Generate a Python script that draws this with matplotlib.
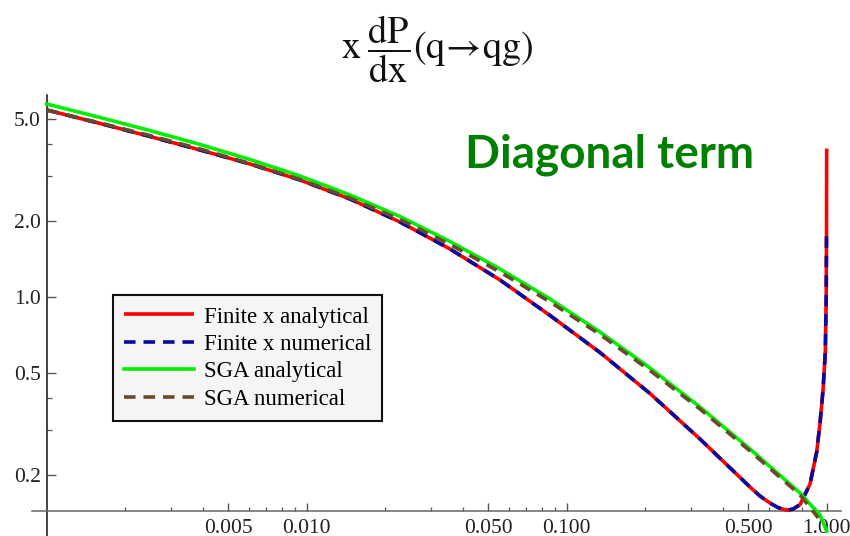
import matplotlib
matplotlib.use('Agg')
import matplotlib.pyplot as plt
from matplotlib.ticker import FixedLocator, FixedFormatter, NullFormatter

# ---------------- data ----------------
x_red = [0.001, 0.001603, 0.002496, 0.003887, 0.006051, 0.009424, 0.01467, 0.02284,
         0.03557, 0.05538, 0.08627, 0.1343, 0.2091, 0.3256, 0.5070, 0.5539, 0.605,
         0.6497, 0.7018, 0.7420, 0.7898, 0.8627, 0.9152, 0.9424, 0.9679, 0.9877,
         0.9956, 0.9984, 0.99944]
y_red = [5.447, 4.822, 4.284, 3.791, 3.339, 2.888, 2.431, 1.974,
         1.545, 1.167, 0.8456, 0.6046, 0.4169, 0.2760, 0.1786, 0.1646, 0.1545,
         0.1483, 0.1446, 0.1463, 0.1524, 0.1836, 0.2454, 0.3190, 0.4303, 0.6073,
         1.0, 1.86, 3.84]

x_blue = [0.001, 0.001603, 0.002496, 0.003887, 0.006051, 0.009424, 0.01467, 0.02284,
          0.03557, 0.05538, 0.08627, 0.1343, 0.2091, 0.3256, 0.5070, 0.5539, 0.605,
          0.6497, 0.7018, 0.7420, 0.7898, 0.8627, 0.9152, 0.9424, 0.9679, 0.9877,
          0.9956, 0.9984]
y_blue = [5.447, 4.822, 4.284, 3.791, 3.339, 2.888, 2.431, 1.974,
          1.545, 1.167, 0.8456, 0.6046, 0.4169, 0.2760, 0.1786, 0.1646, 0.1545,
          0.1483, 0.1446, 0.1463, 0.1524, 0.1836, 0.2454, 0.3190, 0.4303, 0.6073,
          1.0, 1.86]

x_green = [0.001, 0.001603, 0.002496, 0.003887, 0.006051, 0.009424, 0.01467, 0.02284,
           0.03557, 0.05538, 0.08627, 0.1343, 0.2091, 0.3256, 0.5070, 0.7898,
           0.9424, 1.0]
y_green = [5.75, 5.09, 4.52, 3.985, 3.478, 2.995, 2.521, 2.075,
           1.654, 1.289, 0.982, 0.728, 0.5254, 0.3688, 0.2521, 0.1692,
           0.1385, 0.1199]

x_brown = [0.001, 0.001603, 0.002496, 0.003887, 0.006051, 0.009424, 0.01467, 0.02284,
           0.03557, 0.05538, 0.08627, 0.1343, 0.2091, 0.3256, 0.5070, 0.7898, 0.928]
y_brown = [5.445, 4.843, 4.320, 3.826, 3.354, 2.902, 2.453, 2.019,
           1.610, 1.254, 0.956, 0.712, 0.5136, 0.3622, 0.2476, 0.1662, 0.135]

labels = ["Finite x analytical", "Finite x numerical", "SGA analytical", "SGA numerical"]

x_major = [0.005, 0.01, 0.05, 0.1, 0.5, 1.0]
x_major_labels = ["0.005", "0.010", "0.050", "0.100", "0.500", "1.000"]
x_minor = [0.002, 0.003, 0.004, 0.006, 0.007, 0.008, 0.009, 0.02, 0.03, 0.04,
           0.06, 0.07, 0.08, 0.09, 0.2, 0.3, 0.4, 0.6, 0.7, 0.8, 0.9]
y_major = [0.2, 0.5, 1.0, 2.0, 5.0]
y_major_labels = ["0.2", "0.5", "1.0", "2.0", "5.0"]
y_minor = [0.3, 0.4, 3.0, 4.0]

# ---------------- figure ----------------
plt.rcParams['mathtext.fontset'] = 'stix'
plt.rcParams['font.family'] = ['Liberation Serif', 'DejaVu Serif']
W, H = 850, 536
fig = plt.figure(figsize=(W / 100, H / 100), dpi=100)
ax = fig.add_axes([31.7 / W, 0.0, (841.5 - 31.7) / W, 1 - 95 / H])
ax.set_xscale('log')
ax.set_yscale('log')

lw = 2.6
ax.plot(x_red, y_red, color='#ff0000', lw=lw, label=labels[0], solid_capstyle='butt', zorder=3)
ax.plot(x_blue, y_blue, color='#0a0a9c', lw=lw, dashes=(3.2, 2.2), label=labels[1], zorder=4)
ax.plot(x_green, y_green, color='#00ee00', lw=lw, label=labels[2], zorder=5)
ax.plot(x_brown, y_brown, color='#6b4a2a', lw=lw, dashes=(3.2, 2.2), label=labels[3], zorder=6)

ax.set_xlim(0.000875, 1.14)
ax.set_ylim(0.1146, 6.24)

for s in ['top', 'right']:
    ax.spines[s].set_visible(False)
ax.spines['left'].set_position(('data', 0.001))
ax.spines['bottom'].set_position(('data', 0.1437))
ax.spines['left'].set_color('#111111')
ax.spines['bottom'].set_color('#666666')
ax.spines['left'].set_linewidth(1.1)
ax.spines['bottom'].set_linewidth(1.1)

ax.xaxis.set_major_locator(FixedLocator(x_major))
ax.xaxis.set_major_formatter(FixedFormatter(x_major_labels))
ax.xaxis.set_minor_locator(FixedLocator(x_minor))
ax.xaxis.set_minor_formatter(NullFormatter())
ax.yaxis.set_major_locator(FixedLocator(y_major))
ax.yaxis.set_major_formatter(FixedFormatter(y_major_labels))
ax.yaxis.set_minor_locator(FixedLocator(y_minor))
ax.yaxis.set_minor_formatter(NullFormatter())

ax.tick_params(axis='x', which='major', direction='in', length=6, width=1, color='#555555',
               pad=5.5, labelsize=15.5, labelcolor='#222222')
ax.tick_params(axis='x', which='minor', direction='in', length=3, width=0.9, color='#555555')
ax.tick_params(axis='y', which='major', direction='in', length=6.5, width=1, color='#555555',
               pad=4.3, labelsize=15.5, labelcolor='#222222')
ax.tick_params(axis='y', which='minor', direction='in', length=3.5, width=0.9, color='#555555')

leg = ax.legend(loc='upper left', bbox_to_anchor=(113 / W, 1 - 295 / H),
                bbox_transform=fig.transFigure, frameon=True, fancybox=False,
                prop={'family': 'Liberation Serif', 'size': 16.5},
                handlelength=3.05, handletextpad=0.4, labelspacing=0.28,
                borderpad=0.5, borderaxespad=0.0)
leg.get_frame().set_facecolor('#f5f5f5')
leg.get_frame().set_edgecolor('#111111')
leg.get_frame().set_linewidth(1.5)
leg.get_frame().set_alpha(1.0)

fig.text(437 / W, 1 - 49 / H,
         r'$\mathrm{x}\;\dfrac{\mathrm{dP}}{\mathrm{dx}}(\mathrm{q}\!\rightarrow\!\mathrm{qg})$',
         fontsize=27.5, ha='center', va='center', color='#111111')

fig.text(610 / W, 1 - 155 / H, 'Diagonal term', ha='center', va='center',
         fontsize=33, fontweight='bold', color='#008000', family='Lato')

fig.savefig('out.png', dpi=100)
